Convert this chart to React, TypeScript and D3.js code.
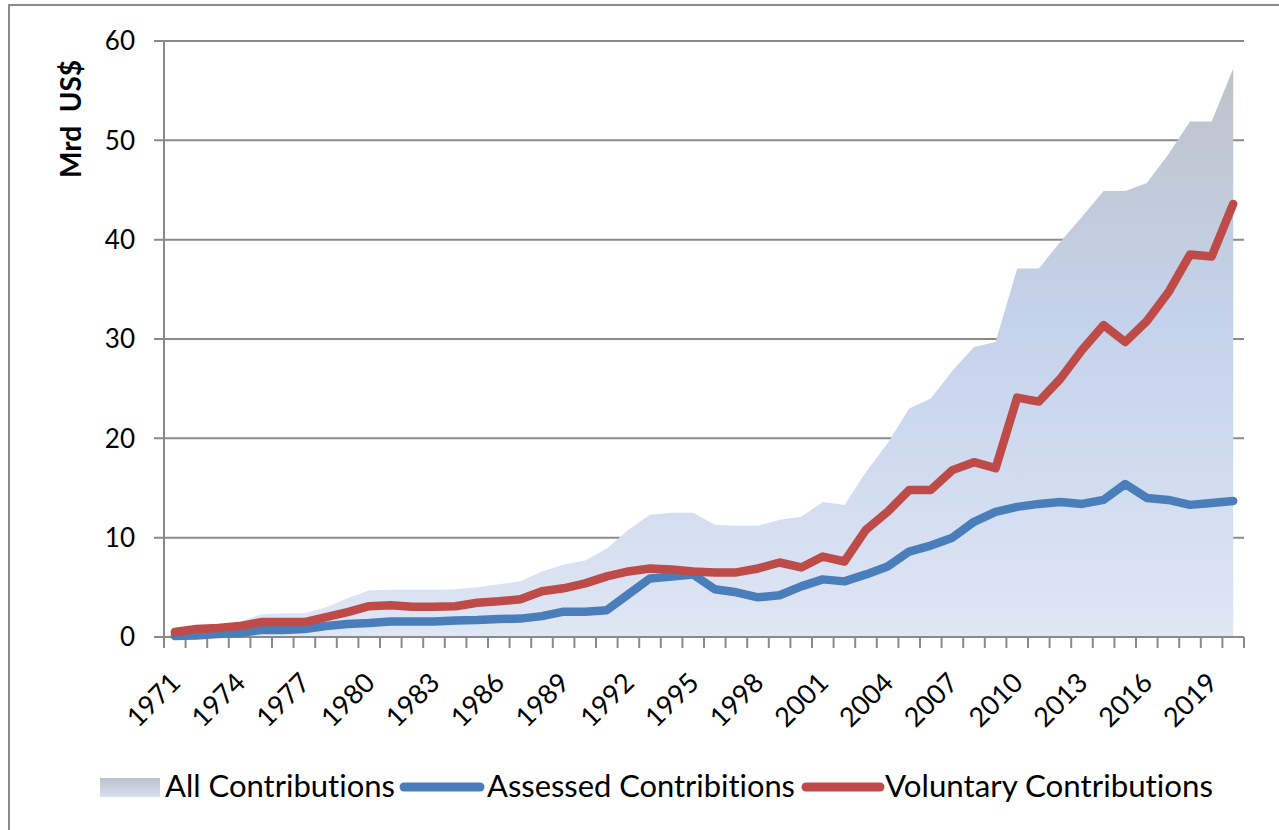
import React from "react";
import * as d3 from "d3";

const years: number[] = d3.range(1971, 2021);
const yTicks = [0, 10, 20, 30, 40, 50, 60];
const labelYears = years.filter((y) => (y - 1971) % 3 === 0);

const allContrib = [
  0.7, 1.0, 1.2, 1.5, 2.3, 2.4, 2.4, 3.0, 3.9, 4.7,
  4.75, 4.75, 4.75, 4.8, 5.0, 5.3, 5.6, 6.6, 7.3, 7.7,
  8.9, 10.8, 12.3, 12.5, 12.5, 11.3, 11.2, 11.2, 11.8, 12.1,
  13.6, 13.3, 16.6, 19.5, 23.0, 24.0, 26.8, 29.2, 29.7, 37.1,
  37.1, 39.8, 42.3, 44.9, 44.9, 45.7, 48.6, 51.9, 51.9, 57.2,
];
const assessed = [
  0.1, 0.15, 0.3, 0.4, 0.7, 0.7, 0.8, 1.1, 1.3, 1.4,
  1.55, 1.55, 1.55, 1.65, 1.7, 1.8, 1.85, 2.1, 2.55, 2.55,
  2.7, 4.3, 5.9, 6.1, 6.3, 4.8, 4.5, 4.0, 4.2, 5.1,
  5.8, 5.6, 6.3, 7.1, 8.6, 9.2, 10.0, 11.6, 12.6, 13.1,
  13.4, 13.6, 13.4, 13.8, 15.4, 14.0, 13.8, 13.3, 13.5, 13.7,
];
const voluntary = [
  0.5, 0.8, 0.9, 1.1, 1.5, 1.5, 1.5, 2.0, 2.5, 3.1,
  3.2, 3.05, 3.05, 3.1, 3.45, 3.6, 3.8, 4.6, 4.9, 5.4,
  6.1, 6.6, 6.9, 6.8, 6.6, 6.5, 6.5, 6.9, 7.5, 7.0,
  8.1, 7.6, 10.8, 12.6, 14.8, 14.8, 16.8, 17.6, 17.0, 24.1,
  23.7, 26.0, 28.9, 31.4, 29.7, 31.8, 34.7, 38.5, 38.3, 43.6,
];

const legendLabels = ["All Contributions", "Assessed Contribitions", "Voluntary Contributions"];

const W = 1279;
const H = 830;
const FONT = "Lato, 'Open Sans', sans-serif";
const GRID = "#8a8a8a";
const BLUE = "#4a7ebb";
const RED = "#be4b48";
const noLig = { fontVariantLigatures: "none" as const, fontFeatureSettings: "'liga' 0, 'clig' 0" };

export default function App() {
  const x = d3.scaleBand<number>().domain(years).range([164, 1244]).padding(0);
  const y = d3.scaleLinear().domain([0, 60]).range([637, 41]);
  const cx = (yr: number) => (x(yr) as number) + x.bandwidth() / 2;

  const area = d3
    .area<number>()
    .x((_, i) => cx(years[i]))
    .y0(y(0))
    .y1((d) => y(d));
  const line = d3
    .line<number>()
    .x((_, i) => cx(years[i]))
    .y((d) => y(d));

  const tickXs = years.map((yr) => x(yr) as number).concat([1244]);

  return (
    <svg
      width={W}
      height={H}
      style={{ position: "absolute", left: 0, top: 0, background: "#fff" }}
    >
      <defs>
        <linearGradient id="areaGrad" x1="0" y1="0" x2="0" y2="1">
          <stop offset="0" stopColor="#bfc3c9" />
          <stop offset="0.45" stopColor="#c4d2eb" />
          <stop offset="1" stopColor="#dfe6f4" />
        </linearGradient>
        <linearGradient id="legGrad" x1="0" y1="0" x2="0" y2="1">
          <stop offset="0" stopColor="#bcc2cc" />
          <stop offset="1" stopColor="#d6e0f2" />
        </linearGradient>
      </defs>
      <rect x={9} y={5} width={1400} height={1000} fill="none" stroke={GRID} strokeWidth={2} />

      {/* gridlines */}
      {yTicks.map((t) => (
        <line key={t} x1={154} x2={1244} y1={y(t)} y2={y(t)} stroke={GRID} strokeWidth={2} />
      ))}

      {/* area */}
      <path d={area(allContrib) || ""} fill="url(#areaGrad)" />

      {/* axes */}
      <line x1={164} x2={164} y1={y(60)} y2={648} stroke={GRID} strokeWidth={2} />
      <line x1={154} x2={1244} y1={y(0)} y2={y(0)} stroke={GRID} strokeWidth={2} />
      {tickXs.map((tx, i) => (
        <line key={i} x1={tx} x2={tx} y1={y(0)} y2={648} stroke={GRID} strokeWidth={2} />
      ))}

      {/* y tick labels */}
      {yTicks.map((t) => (
        <text
          key={t}
          x={135}
          y={y(t)}
          dy="0.36em"
          textAnchor="end"
          fontFamily={FONT}
          fontSize={26}
          fill="#000"
        >
          {t}
        </text>
      ))}

      {/* y title */}
      <text
        transform={`translate(81,${119}) rotate(-90)`}
        textAnchor="middle"
        fontFamily={FONT}
        fontWeight="bold"
        fontSize={28}
        fill="#000"
        style={{ whiteSpace: "pre" }}
      >
        {"Mrd  US$"}
      </text>

      {/* x labels */}
      {labelYears.map((yr) => (
        <text
          key={yr}
          transform={`translate(${cx(yr) - 6},${671}) rotate(-45)`}
          textAnchor="end"
          fontFamily={FONT}
          fontSize={27}
          fill="#000"
          dy="0.7em"
        >
          {yr}
        </text>
      ))}

      {/* lines */}
      <path d={line(assessed) || ""} fill="none" stroke={BLUE} strokeWidth={8.5} strokeLinejoin="round" strokeLinecap="round" />
      <path d={line(voluntary) || ""} fill="none" stroke={RED} strokeWidth={8.5} strokeLinejoin="round" strokeLinecap="round" />

      {/* legend */}
      <rect x={100} y={778} width={60} height={19} fill="url(#legGrad)" />
      <text x={165} y={797} fontFamily={FONT} fontSize={30} fill="#000" textLength={230} lengthAdjust="spacingAndGlyphs" style={noLig}>{legendLabels[0]}</text>
      <line x1={404} x2={480} y1={787} y2={787} stroke={BLUE} strokeWidth={9} strokeLinecap="round" />
      <text x={487} y={797} fontFamily={FONT} fontSize={30} fill="#000" textLength={308} lengthAdjust="spacingAndGlyphs" style={noLig}>{legendLabels[1]}</text>
      <line x1={806} x2={880} y1={787} y2={787} stroke={RED} strokeWidth={9} strokeLinecap="round" />
      <text x={885} y={797} fontFamily={FONT} fontSize={30} fill="#000" textLength={328} lengthAdjust="spacingAndGlyphs" style={noLig}>{legendLabels[2]}</text>
    </svg>
  );
}
